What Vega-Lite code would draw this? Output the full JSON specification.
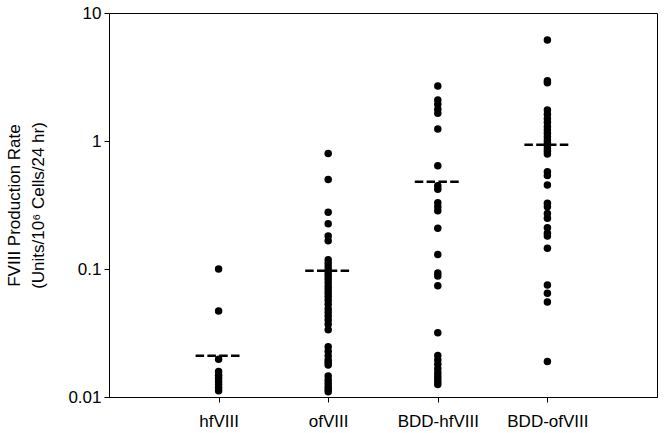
{
  "$schema": "https://vega.github.io/schema/vega-lite/v6.json",
  "width": 548,
  "height": 384,
  "autosize": {"type": "none"},
  "padding": {"left": 109, "top": 13, "right": 7, "bottom": 36},
  "background": "white",
  "config": {
    "font": "Liberation Sans",
    "view": {"stroke": "#000", "strokeWidth": 1},
    "axis": {
      "domainColor": "#000",
      "tickColor": "#000",
      "labelColor": "#000",
      "titleColor": "#000",
      "labelFont": "Liberation Sans",
      "titleFont": "Liberation Sans",
      "labelFontSize": 17,
      "titleFontSize": 17,
      "titleFontWeight": "normal",
      "grid": false,
      "tickSize": 5
    }
  },
  "datasets": {
    "cells": [
      {"group": "hfVIII", "rate": 0.1},
      {"group": "hfVIII", "rate": 0.047},
      {"group": "hfVIII", "rate": 0.0197},
      {"group": "hfVIII", "rate": 0.0158},
      {"group": "hfVIII", "rate": 0.0148},
      {"group": "hfVIII", "rate": 0.014},
      {"group": "hfVIII", "rate": 0.0132},
      {"group": "hfVIII", "rate": 0.0125},
      {"group": "hfVIII", "rate": 0.0118},
      {"group": "hfVIII", "rate": 0.0112},
      {"group": "ofVIII", "rate": 0.8},
      {"group": "ofVIII", "rate": 0.5},
      {"group": "ofVIII", "rate": 0.277},
      {"group": "ofVIII", "rate": 0.226},
      {"group": "ofVIII", "rate": 0.181},
      {"group": "ofVIII", "rate": 0.166},
      {"group": "ofVIII", "rate": 0.118},
      {"group": "ofVIII", "rate": 0.111},
      {"group": "ofVIII", "rate": 0.104},
      {"group": "ofVIII", "rate": 0.098},
      {"group": "ofVIII", "rate": 0.093},
      {"group": "ofVIII", "rate": 0.088},
      {"group": "ofVIII", "rate": 0.083},
      {"group": "ofVIII", "rate": 0.078},
      {"group": "ofVIII", "rate": 0.073},
      {"group": "ofVIII", "rate": 0.069},
      {"group": "ofVIII", "rate": 0.065},
      {"group": "ofVIII", "rate": 0.061},
      {"group": "ofVIII", "rate": 0.057},
      {"group": "ofVIII", "rate": 0.053},
      {"group": "ofVIII", "rate": 0.049},
      {"group": "ofVIII", "rate": 0.046},
      {"group": "ofVIII", "rate": 0.043},
      {"group": "ofVIII", "rate": 0.04},
      {"group": "ofVIII", "rate": 0.037},
      {"group": "ofVIII", "rate": 0.0335},
      {"group": "ofVIII", "rate": 0.0247},
      {"group": "ofVIII", "rate": 0.0228},
      {"group": "ofVIII", "rate": 0.021},
      {"group": "ofVIII", "rate": 0.0195},
      {"group": "ofVIII", "rate": 0.0186},
      {"group": "ofVIII", "rate": 0.0178},
      {"group": "ofVIII", "rate": 0.0146},
      {"group": "ofVIII", "rate": 0.0136},
      {"group": "ofVIII", "rate": 0.0128},
      {"group": "ofVIII", "rate": 0.0121},
      {"group": "ofVIII", "rate": 0.0115},
      {"group": "ofVIII", "rate": 0.011},
      {"group": "BDD-hfVIII", "rate": 2.69},
      {"group": "BDD-hfVIII", "rate": 2.09},
      {"group": "BDD-hfVIII", "rate": 1.94},
      {"group": "BDD-hfVIII", "rate": 1.77},
      {"group": "BDD-hfVIII", "rate": 1.65},
      {"group": "BDD-hfVIII", "rate": 1.24},
      {"group": "BDD-hfVIII", "rate": 0.641},
      {"group": "BDD-hfVIII", "rate": 0.448},
      {"group": "BDD-hfVIII", "rate": 0.42},
      {"group": "BDD-hfVIII", "rate": 0.33},
      {"group": "BDD-hfVIII", "rate": 0.307},
      {"group": "BDD-hfVIII", "rate": 0.285},
      {"group": "BDD-hfVIII", "rate": 0.208},
      {"group": "BDD-hfVIII", "rate": 0.13},
      {"group": "BDD-hfVIII", "rate": 0.093},
      {"group": "BDD-hfVIII", "rate": 0.088},
      {"group": "BDD-hfVIII", "rate": 0.0741},
      {"group": "BDD-hfVIII", "rate": 0.0318},
      {"group": "BDD-hfVIII", "rate": 0.0211},
      {"group": "BDD-hfVIII", "rate": 0.0195},
      {"group": "BDD-hfVIII", "rate": 0.018},
      {"group": "BDD-hfVIII", "rate": 0.0166},
      {"group": "BDD-hfVIII", "rate": 0.0155},
      {"group": "BDD-hfVIII", "rate": 0.0146},
      {"group": "BDD-hfVIII", "rate": 0.0138},
      {"group": "BDD-hfVIII", "rate": 0.0131},
      {"group": "BDD-hfVIII", "rate": 0.0125},
      {"group": "BDD-ofVIII", "rate": 6.15},
      {"group": "BDD-ofVIII", "rate": 2.95},
      {"group": "BDD-ofVIII", "rate": 2.85},
      {"group": "BDD-ofVIII", "rate": 1.75},
      {"group": "BDD-ofVIII", "rate": 1.62},
      {"group": "BDD-ofVIII", "rate": 1.5},
      {"group": "BDD-ofVIII", "rate": 1.4},
      {"group": "BDD-ofVIII", "rate": 1.3},
      {"group": "BDD-ofVIII", "rate": 1.22},
      {"group": "BDD-ofVIII", "rate": 1.15},
      {"group": "BDD-ofVIII", "rate": 1.08},
      {"group": "BDD-ofVIII", "rate": 1.02},
      {"group": "BDD-ofVIII", "rate": 0.97},
      {"group": "BDD-ofVIII", "rate": 0.92},
      {"group": "BDD-ofVIII", "rate": 0.87},
      {"group": "BDD-ofVIII", "rate": 0.83},
      {"group": "BDD-ofVIII", "rate": 0.79},
      {"group": "BDD-ofVIII", "rate": 0.575},
      {"group": "BDD-ofVIII", "rate": 0.537},
      {"group": "BDD-ofVIII", "rate": 0.453},
      {"group": "BDD-ofVIII", "rate": 0.326},
      {"group": "BDD-ofVIII", "rate": 0.307},
      {"group": "BDD-ofVIII", "rate": 0.272},
      {"group": "BDD-ofVIII", "rate": 0.249},
      {"group": "BDD-ofVIII", "rate": 0.21},
      {"group": "BDD-ofVIII", "rate": 0.19},
      {"group": "BDD-ofVIII", "rate": 0.181},
      {"group": "BDD-ofVIII", "rate": 0.145},
      {"group": "BDD-ofVIII", "rate": 0.075},
      {"group": "BDD-ofVIII", "rate": 0.0646},
      {"group": "BDD-ofVIII", "rate": 0.0552},
      {"group": "BDD-ofVIII", "rate": 0.0189}
    ],
    "medians": [
      {"group": "hfVIII", "median": 0.021},
      {"group": "ofVIII", "median": 0.097},
      {"group": "BDD-hfVIII", "median": 0.481},
      {"group": "BDD-ofVIII", "median": 0.935}
    ]
  },
  "encoding": {
    "x": {
      "field": "group",
      "type": "nominal",
      "sort": ["hfVIII", "ofVIII", "BDD-hfVIII", "BDD-ofVIII"],
      "scale": {"type": "point", "padding": 1},
      "axis": {"title": null, "labelAngle": 0, "labelPadding": 11, "ticks": true}
    }
  },
  "layer": [
    {
      "data": {"name": "cells"},
      "mark": {"type": "circle", "size": 56, "color": "#000", "opacity": 1},
      "encoding": {
        "y": {
          "field": "rate",
          "type": "quantitative",
          "scale": {"type": "log", "domain": [0.01, 10], "nice": false},
          "axis": {
            "values": [0.01, 0.1, 1, 10],
            "format": "~g",
            "title": ["FVIII Production Rate", "(Units/10⁶ Cells/24 hr)"],
            "titlePadding": 20,
            "titleLineHeight": 24,
            "labelPadding": 3
          }
        }
      }
    },
    {
      "data": {"name": "medians"},
      "mark": {
        "type": "point",
        "shape": "M-1,0H1",
        "size": 2116,
        "filled": false,
        "stroke": "#000",
        "strokeWidth": 2.5,
        "strokeDash": [8.5, 3.3],
        "opacity": 1
      },
      "encoding": {
        "y": {"field": "median", "type": "quantitative"}
      }
    }
  ]
}
